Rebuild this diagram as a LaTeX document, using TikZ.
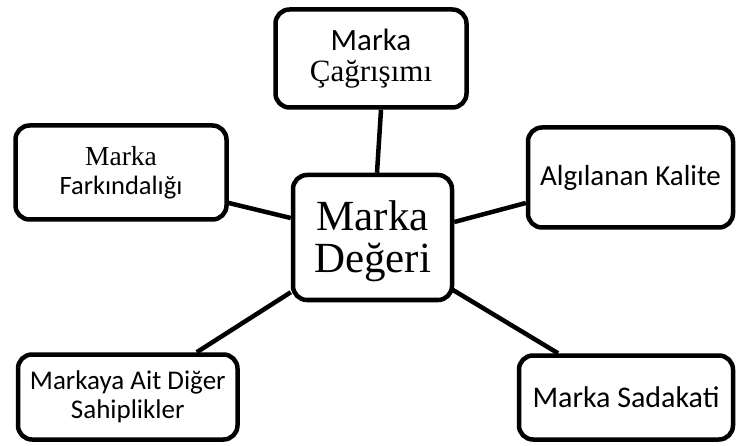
\documentclass[tikz,border=0pt]{standalone}
\usepackage{fontspec}
\setmainfont{Liberation Serif}
\newfontfamily\carl{Carlito}
\usetikzlibrary{calc}

\begin{document}
\begin{tikzpicture}[x=1pt,y=-1pt,
  box/.style={draw, line width=4.5pt, rounded corners=14pt, fill=white,
    align=center, inner sep=0pt},
  link/.style={line width=4.5pt}]
\useasboundingbox (0,0) rectangle (736,446);

% central concept
\node[box, minimum width=159pt, minimum height=125pt,
  font=\fontsize{43}{42}\selectfont] (equity) at (372.5,237.5)
  {\rule{0pt}{37pt}Marka\\Değeri};

% surrounding dimensions
\node[box, minimum width=191pt, minimum height=98pt,
  font=\fontsize{31}{31}\selectfont] (assoc) at (371,58.5)
  {{\carl\fontsize{31}{31}\selectfont Marka}\\Çağrışımı};

\node[box, minimum width=211pt, minimum height=94pt,
  font=\fontsize{27.5}{29}\selectfont] (aware) at (121,172.5)
  {Marka\\{\carl\fontsize{26.5}{29}\selectfont Farkındalığı}};

\node[box, minimum width=205pt, minimum height=100pt,
  font=\carl\fontsize{29}{30}\selectfont] (quality) at (630.5,177.5)
  {Algılanan Kalite};

\node[box, minimum width=219.5pt, minimum height=85pt,
  font=\carl\fontsize{27}{28.5}\selectfont] (other) at (127.75,397)
  {Markaya Ait Diğer\\Sahiplikler};

\node[box, minimum width=214pt, minimum height=84pt,
  font=\carl\fontsize{30}{30}\selectfont] (loyal) at (626,397.5)
  {Marka Sadakati};

% connectors from the centre to each dimension
\draw[link] ($(assoc.south)+(10,0)$) -- ($(equity.north)+(4.5,0)$);
\draw[link] ($(aware.east)+(0,30.5)$) -- ($(equity.west)+(0,-19.5)$);
\draw[link] ($(equity.east)+(0,-15.5)$) -- ($(quality.west)+(0,25.5)$);
\draw[link] ($(equity.south west)+(0,-10)$) -- ($(other.north)+(69,0)$);
\draw[link] ($(equity.south east)+(-2.5,-13)$) -- ($(loyal.north)+(-68,0)$);
\end{tikzpicture}
\end{document}
